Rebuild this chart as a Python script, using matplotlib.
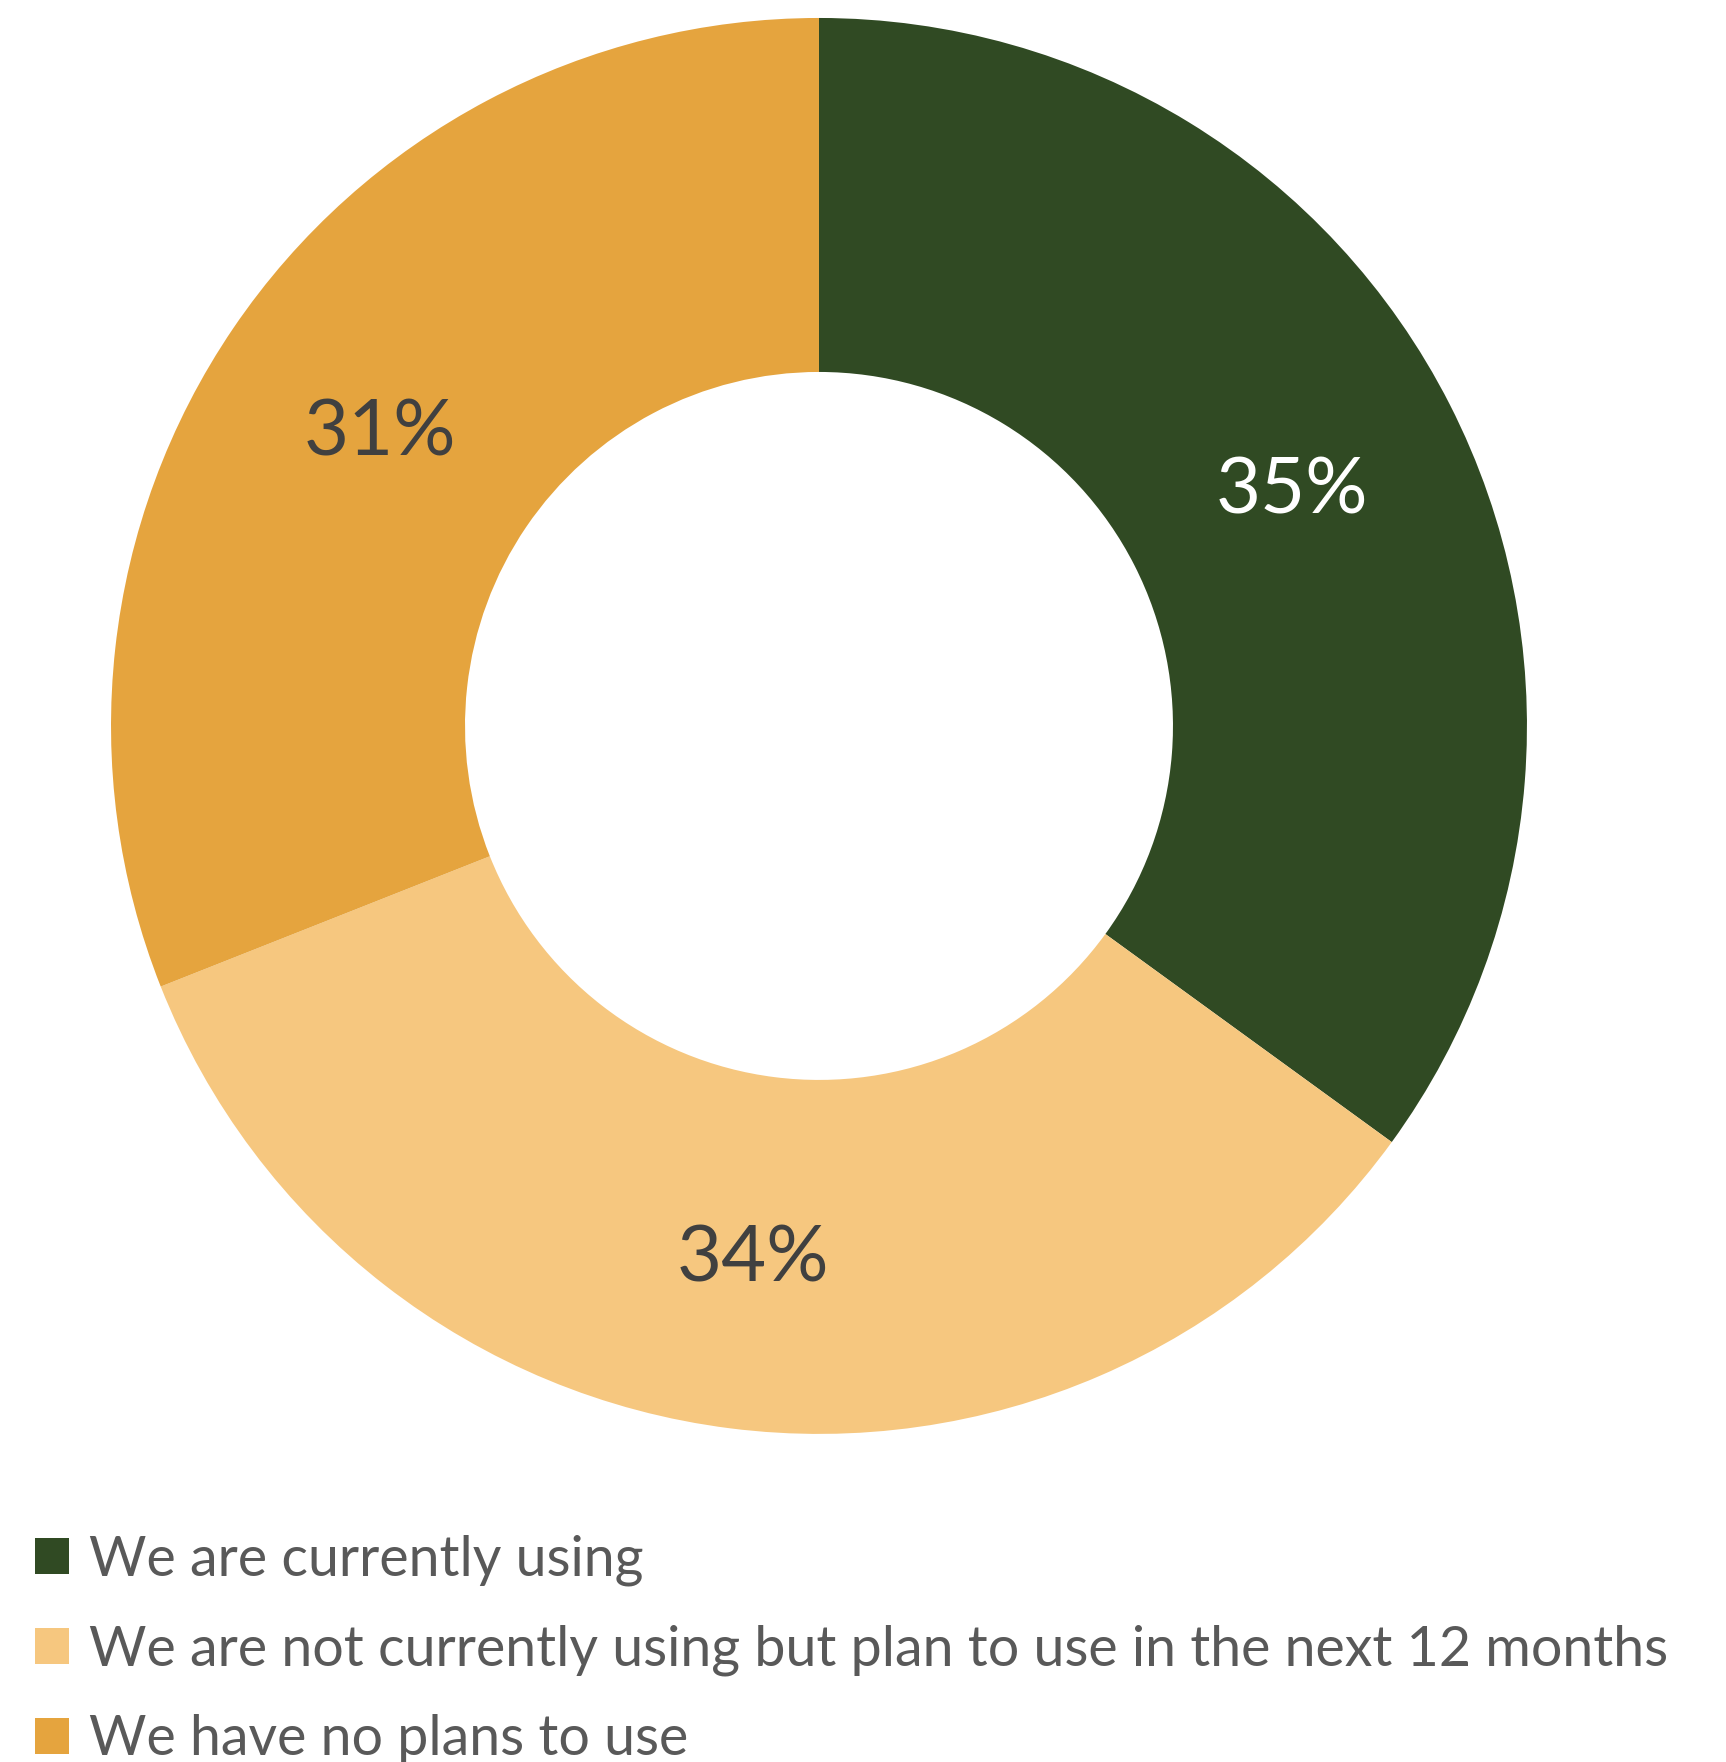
import matplotlib
matplotlib.use('Agg')
import matplotlib.pyplot as plt

# survey answers, going clockwise from 12 o'clock
labels = ['We are currently using',
          'We are not currently using but plan to use in the next 12 months',
          'We have no plans to use']
values = [35, 34, 31]
colors = ['#304a23', '#f6c77f', '#e5a43e']
pct_colors = ['white', '#404040', '#404040']

fig = plt.figure(figsize=(17.26, 17.62), dpi=100)
ax = fig.add_axes([0.0643, 0.1862, 0.8204, 0.8036])

wedges, texts, autotexts = ax.pie(values, colors=colors, startangle=90, counterclock=False,
                                  radius=1.0, autopct='%d%%', pctdistance=0.75,
                                  wedgeprops=dict(width=0.5, linewidth=0))
for t, c in zip(autotexts, pct_colors):
    t.set_color(c)
    t.set_fontsize(56)
    t.set_family('Lato')
    t.set_va('center_baseline')
ax.set_aspect('equal')
ax.set_xlim(-1, 1)
ax.set_ylim(-1, 1)

leg = fig.legend(wedges, labels, loc='upper left', bbox_to_anchor=(0.0205, 0.129),
                 frameon=False, prop={'family': 'Lato', 'size': 40},
                 handlelength=0.61, handleheight=0.61,
                 handletextpad=0.36, labelspacing=0.69, borderaxespad=0, borderpad=0)
for t in leg.get_texts():
    t.set_color('#595959')

fig.savefig('out.png', dpi=100)
